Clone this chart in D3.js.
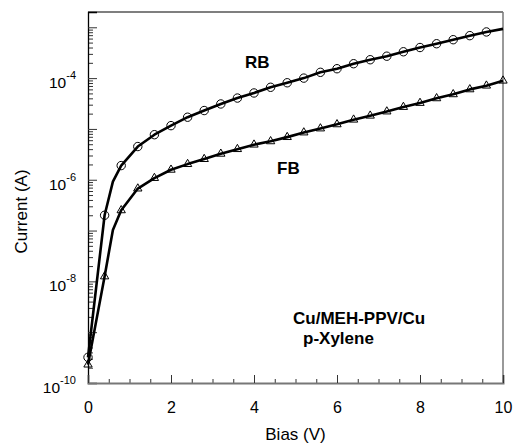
<!DOCTYPE html>
<html>
<head>
<meta charset="utf-8">
<script src="https://cdn.jsdelivr.net/npm/d3@7"></script>
<style>
  body { margin: 0; background: #fff; }
  svg { display: block; font-family: "Liberation Sans", Arial, Helvetica, sans-serif; }
  .ann { font-weight: bold; font-size: 17px; }
</style>
</head>
<body>
<div id="chart"></div>
<script>
// bias points carrying markers (V)
var bias = [0, 0.4, 0.8, 1.2, 1.6, 2.0, 2.4, 2.8, 3.2, 3.6, 4.0, 4.4, 4.8,
            5.2, 5.6, 6.0, 6.4, 6.8, 7.2, 7.6, 8.0, 8.4, 8.8, 9.2, 9.6, 10.0]

// reverse bias current (A)
var rbCurrent = [3.2e-10, 2.0e-7, 1.9e-6, 4.5e-6, 7.7e-6, 1.16e-5, 1.7e-5, 2.3e-5,
                 3.1e-5, 4.05e-5, 5.1e-5, 6.6e-5, 8.1e-5, 1.0e-4, 1.3e-4, 1.53e-4,
                 1.92e-4, 2.3e-4, 2.7e-4, 3.3e-4, 4.0e-4, 4.75e-4, 5.7e-4, 6.85e-4,
                 8.1e-4, 9.3e-4]

// forward bias current (A)
var fbCurrent = [2.3e-10, 1.25e-8, 2.5e-7, 6.7e-7, 1.08e-6, 1.57e-6, 2.03e-6, 2.55e-6,
                 3.24e-6, 4.0e-6, 4.9e-6, 5.7e-6, 6.9e-6, 8.5e-6, 1.02e-5, 1.23e-5,
                 1.52e-5, 1.82e-5, 2.2e-5, 2.7e-5, 3.24e-5, 4.0e-5, 4.8e-5, 6.0e-5,
                 7.1e-5, 8.9e-5]

// extra line-only readings (knee of the curves)
var biasExtra = [0.6]
var rbExtra = [9.2e-7]
var fbExtra = [1.03e-7]

var xMajor = [0, 2, 4, 6, 8, 10]
var yLabelExp = [-10, -8, -6, -4]

var W = 514, H = 443
var margin = {top: 12, right: 11, bottom: 60, left: 88},
    width  = W - margin.left - margin.right,
    height = H - margin.top - margin.bottom

var svg = d3.select("#chart").append("svg")
  .attr("width", W)
  .attr("height", H)

var g = svg.append("g")
  .attr("transform", "translate(" + margin.left + "," + margin.top + ")")

var x = d3.scaleLinear()
  .domain([0, 10])
  .range([0, width])

var y = d3.scaleLog()
  .domain([1e-10, 2e-3])
  .range([height, 0])

// ticks for the log axis
var yMajor = d3.range(-10, -2).map(e => Math.pow(10, e))
var yMinor = []
d3.range(-10, -3).forEach(e => {
  for (var k = 2; k <= 9; k++) yMinor.push(k * Math.pow(10, e))
})
yMinor.push(2e-3)
var xMinor = d3.range(0.5, 10, 0.5).filter(v => v % 2 != 0)

// frame: top (black) and right (grey)
g.append("line")
  .attr("x1", 0).attr("x2", width).attr("y1", 0).attr("y2", 0)
  .attr("stroke", "#000").attr("stroke-width", 1.2)
g.append("line")
  .attr("x1", width).attr("x2", width).attr("y1", 0).attr("y2", height)
  .attr("stroke", "#777").attr("stroke-width", 1.5)

// y axis ticks, pointing into the plot
g.append("g")
  .attr("class", "yminor")
  .call(d3.axisRight(y).tickValues(yMinor).tickSize(5).tickFormat(""))
g.append("g")
  .attr("class", "ymajor")
  .call(d3.axisRight(y).tickValues(yMajor).tickSize(9).tickFormat(""))

// x axis ticks, pointing up
g.append("g")
  .attr("class", "xminor")
  .attr("transform", "translate(0," + height + ")")
  .call(d3.axisTop(x).tickValues(xMinor).tickSize(4).tickFormat(""))
g.append("g")
  .attr("class", "xmajor")
  .attr("transform", "translate(0," + height + ")")
  .call(d3.axisTop(x).tickValues(xMajor).tickSize(8).tickFormat(""))

g.selectAll(".yminor .domain, .xminor .domain").remove()
g.selectAll(".ymajor .domain").attr("stroke", "#000").attr("stroke-width", 1.3)
g.selectAll(".xmajor .domain").attr("stroke", "#777").attr("stroke-width", 2)
g.selectAll(".tick line").attr("stroke", "#333").attr("stroke-width", 1)

// x tick labels
g.append("g")
  .attr("transform", "translate(0," + height + ")")
  .call(d3.axisBottom(x).tickValues(xMajor).tickSize(0).tickPadding(19).tickFormat(d3.format("d")))
  .call(a => a.select(".domain").remove())
  .selectAll("text")
    .attr("fill", "#000")
    .style("font-size", "16px")
    .style("font-family", "Liberation Sans, Arial, sans-serif")

// y tick labels as 10^n
var ylab = g.append("g").selectAll("text")
  .data(yLabelExp)
  .join("text")
    .attr("x", -12)
    .attr("y", d => y(Math.pow(10, d)) + 10)
    .attr("text-anchor", "end")
    .style("font-size", "15.5px")
ylab.append("tspan").text("10")
ylab.append("tspan")
  .attr("dy", -9)
  .style("font-size", "11px")
  .text(d => d)

// axis titles
svg.append("text")
  .attr("x", margin.left + width / 2)
  .attr("y", 440)
  .attr("text-anchor", "middle")
  .style("font-size", "17px")
  .text("Bias (V)")

svg.append("text")
  .attr("transform", "translate(27," + (margin.top + height / 2 + 14) + ") rotate(-90)")
  .attr("text-anchor", "middle")
  .style("font-size", "17px")
  .text("Current (A)")

// series
function series(vals, extraVals) {
  var pts = bias.map((b, i) => ({x: b, y: vals[i]}))
  biasExtra.forEach((b, i) => pts.push({x: b, y: extraVals[i]}))
  return pts.sort((a, b) => a.x - b.x)
}

var line = d3.line()
  .x(d => x(d.x))
  .y(d => y(d.y))

var rbLine = series(rbCurrent, rbExtra),
    fbLine = series(fbCurrent, fbExtra)

;[rbLine, fbLine].forEach(s => {
  g.append("path")
    .datum(s)
    .attr("fill", "none")
    .attr("stroke", "#000")
    .attr("stroke-width", 2.6)
    .attr("stroke-linejoin", "round")
    .attr("d", line)
})

g.append("g").selectAll("circle")
  .data(bias.map((b, i) => ({x: b, y: rbCurrent[i]})).filter(d => d.x < 10))
  .join("circle")
    .attr("cx", d => x(d.x))
    .attr("cy", d => y(d.y))
    .attr("r", 4.2)
    .attr("fill", "none")
    .attr("stroke", "#000")
    .attr("stroke-width", 1)

var tri = d3.symbol().type(d3.symbolTriangle).size(30)
g.append("g").selectAll("path")
  .data(bias.map((b, i) => ({x: b, y: fbCurrent[i]})))
  .join("path")
    .attr("transform", d => "translate(" + x(d.x) + "," + y(d.y) + ")")
    .attr("d", tri)
    .attr("fill", "none")
    .attr("stroke", "#000")
    .attr("stroke-width", 1)

// annotations
var ann = [
  {t: "RB", x: 245, y: 68},
  {t: "FB", x: 277, y: 174},
  {t: "Cu/MEH-PPV/Cu", x: 293, y: 324},
  {t: "p-Xylene", x: 303, y: 344}
]
svg.append("g").selectAll("text")
  .data(ann)
  .join("text")
    .attr("class", "ann")
    .attr("x", d => d.x)
    .attr("y", d => d.y)
    .text(d => d.t)
</script>
</body>
</html>
